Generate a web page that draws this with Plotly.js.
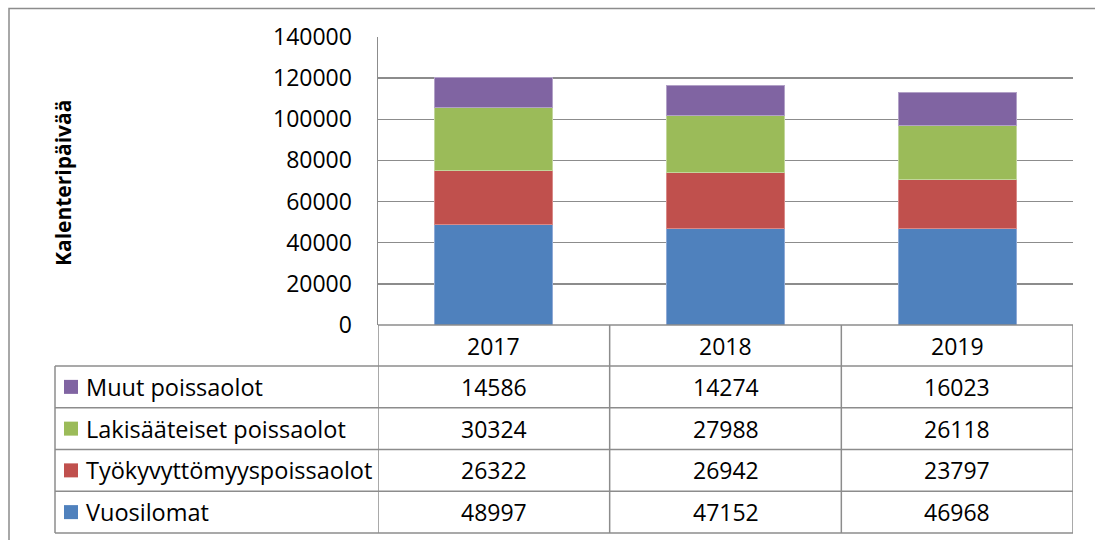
<!DOCTYPE html>
<html>
<head>
<meta charset="utf-8">
<script src="https://cdn.plot.ly/plotly-3.0.1.min.js"></script>
<style>html,body{margin:0;padding:0;background:#fff;}#chart{width:1095px;height:540px;}</style>
</head>
<body>
<div id="chart"></div>
<script>
// ---- data ----
const years = ['2017', '2018', '2019'];
const seriesNames = ['Vuosilomat', 'Työkyvyttömyyspoissaolot', 'Lakisääteiset poissaolot', 'Muut poissaolot'];
const vuosilomat = [48997, 47152, 46968];
const tyokyvyttomyys = [26322, 26942, 23797];
const lakisaateiset = [30324, 27988, 26118];
const muut = [14586, 14274, 16023];
const yTitle = 'Kalenteripäivää';

// ---- styling ----
const colors = ['#4F81BD', '#C0504D', '#9BBB59', '#8064A2'];
const edgeColors = ['#8FAAD6', '#D98A88', '#C2D69B', '#B2A1C7'];
const values = [vuosilomat, tyokyvyttomyys, lakisaateiset, muut];
const W = 1095, H = 540;
const M = {l: 378, r: 22, t: 37, b: 215};
const PW = W - M.l - M.r, PH = H - M.t - M.b;
const xp = px => (px - M.l) / PW;
const yp = py => (H - M.b - py) / PH;
const FONT = 'Open Sans, Noto Sans, sans-serif';
const gridCol = '#8c8c8c';

const traces = values.map((v, i) => ({
  type: 'bar', x: years, y: v, name: seriesNames[i],
  marker: {color: colors[i], line: {color: edgeColors[i], width: 1}},
  hoverinfo: 'none'
}));

// table geometry (pixels)
const tableTop = 325, headerBottom = 366, rowH = 41.75;
const tableLeft = 55, tableRight = 1073;
const shapes = [];
const annotations = [];
const lineStyle = {color: gridCol, width: 1.5};

// outer border
shapes.push({type: 'rect', xref: 'paper', yref: 'paper',
  x0: xp(9), x1: xp(1105), y0: yp(8.5), y1: yp(550),
  line: {color: '#8c8c8c', width: 1.5}, layer: 'below'});

// header row top line
shapes.push({type: 'line', xref: 'paper', yref: 'paper', x0: xp(378), x1: xp(tableRight), y0: yp(tableTop), y1: yp(tableTop), line: lineStyle});
// row lines
for (let r = 0; r <= 4; r++) {
  const y = headerBottom + r * rowH;
  shapes.push({type: 'line', xref: 'paper', yref: 'paper', x0: xp(tableLeft), x1: xp(tableRight), y0: yp(y), y1: yp(y), line: lineStyle});
}
// legend column left line
shapes.push({type: 'line', xref: 'paper', yref: 'paper', x0: xp(tableLeft), x1: xp(tableLeft), y0: yp(headerBottom), y1: yp(headerBottom + 4 * rowH), line: lineStyle});
// category boundary lines
for (let c = 0; c <= years.length; c++) {
  shapes.push({type: 'line', xref: 'x', yref: 'paper', x0: c - 0.5, x1: c - 0.5, y0: yp(tableTop), y1: yp(headerBottom + 4 * rowH), line: lineStyle});
}

// header labels
years.forEach((yr, c) => {
  annotations.push({xref: 'x', yref: 'paper', x: c, y: yp((tableTop + headerBottom) / 2), text: yr, showarrow: false,
    font: {family: FONT, size: 23, color: '#000'}, xanchor: 'center', yanchor: 'middle'});
});

// rows: top to bottom reversed series order
for (let r = 0; r < 4; r++) {
  const si = 3 - r;
  const cy = headerBottom + r * rowH + rowH / 2;
  // legend key square
  shapes.push({type: 'rect', xref: 'paper', yref: 'paper', x0: xp(64), x1: xp(78), y0: yp(cy - 7), y1: yp(cy + 7),
    fillcolor: colors[si], line: {width: 0}});
  annotations.push({xref: 'paper', yref: 'paper', x: xp(84), y: yp(cy), text: seriesNames[si], showarrow: false,
    font: {family: FONT, size: 23.5, color: '#000'}, xanchor: 'left', yanchor: 'middle'});
  years.forEach((yr, c) => {
    annotations.push({xref: 'x', yref: 'paper', x: c, y: yp(cy), text: String(values[si][c]), showarrow: false,
      font: {family: FONT, size: 23, color: '#000'}, xanchor: 'center', yanchor: 'middle'});
  });
}

// y axis title
annotations.push({xref: 'paper', yref: 'paper', x: xp(63), y: yp(183), text: '<b>' + yTitle + '</b>', textangle: -90, showarrow: false,
  font: {family: FONT, size: 21, color: '#000'}, xanchor: 'center', yanchor: 'middle'});

const layout = {
  width: W, height: H,
  margin: M,
  paper_bgcolor: '#fff', plot_bgcolor: '#fff',
  barmode: 'stack', bargap: 0.49,
  showlegend: false,
  xaxis: {type: 'category', range: [-0.5, 2.5], showticklabels: false, showgrid: false, zeroline: false, showline: false, ticks: ''},
  yaxis: {range: [0, 140000], dtick: 20000, tick0: 0, showgrid: true, gridcolor: gridCol, gridwidth: 1.5,
    zeroline: false, showline: true, linecolor: gridCol, linewidth: 1.5, ticks: '', ticklabelstandoff: 20,
    tickfont: {family: FONT, size: 23, color: '#000'}, tickformat: 'd'},
  shapes: shapes,
  annotations: annotations
};

Plotly.newPlot('chart', traces, layout, {staticPlot: true, displayModeBar: false});
</script>
</body>
</html>
